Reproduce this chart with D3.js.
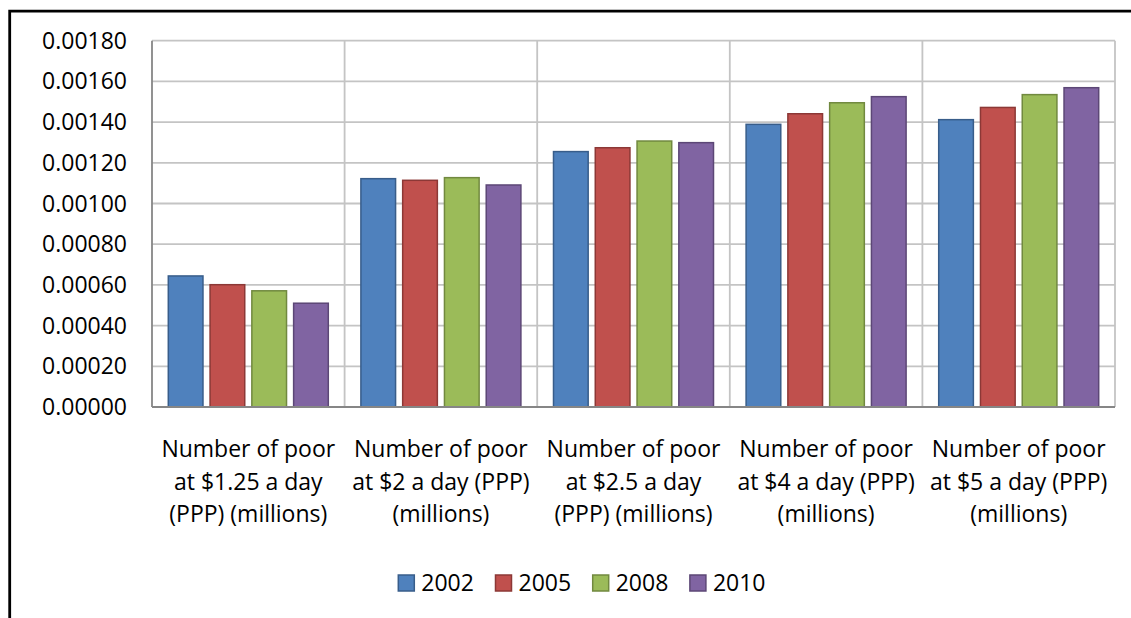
<!DOCTYPE html>
<html>
<head>
<meta charset="utf-8">
<script src="https://cdn.jsdelivr.net/npm/d3@7"></script>
<style>
  html, body { margin: 0; padding: 0; background: #fff; }
  svg { display: block; }
  text { font-family: "Open Sans", Lato, sans-serif; fill: #000; }
</style>
</head>
<body>
<svg id="chart" width="1131" height="618"></svg>
<script>
const categories = [
  ["Number of poor", "at $1.25 a day", "(PPP) (millions)"],
  ["Number of poor", "at $2 a day (PPP)", "(millions)"],
  ["Number of poor", "at $2.5 a day", "(PPP) (millions)"],
  ["Number of poor", "at $4 a day (PPP)", "(millions)"],
  ["Number of poor", "at $5 a day (PPP)", "(millions)"]
];
const seriesNames = ["2002", "2005", "2008", "2010"];
const values2002 = [0.000644, 0.001122, 0.001255, 0.001389, 0.001412];
const values2005 = [0.000601, 0.001114, 0.001274, 0.001441, 0.001472];
const values2008 = [0.000571, 0.001127, 0.001307, 0.001495, 0.001535];
const values2010 = [0.000510, 0.001091, 0.001299, 0.001525, 0.001569];
const yTicks = [0, 0.0002, 0.0004, 0.0006, 0.0008, 0.0010, 0.0012, 0.0014, 0.0016, 0.0018];
const fills = ["#4F81BD", "#C0504D", "#9BBB59", "#8064A2"];
const strokes = ["#385D8A", "#8C3836", "#71893F", "#5C4776"];

(function () {
const series = [values2002, values2005, values2008, values2010];
const svg = d3.select("#chart");
const fs = "23px";

// outer frame (clipped at right and bottom)
svg.append("path")
  .attr("d", "M9.7,640 L9.7,11.2 L1140,11.2")
  .attr("fill", "none").attr("stroke", "#000").attr("stroke-width", 2.8);

const pLeft = 152, pRight = 1115, pTop = 40.7, pBottom = 407;
const x0 = d3.scaleBand().domain(d3.range(categories.length)).range([pLeft, pRight]).paddingInner(0).paddingOuter(0);
const groupPad = 16.3;
const x1 = d3.scaleBand().domain(d3.range(seriesNames.length))
  .range([groupPad, x0.bandwidth() - groupPad]).paddingInner(0.17).paddingOuter(0);
const y = d3.scaleLinear().domain([0, 0.0018]).range([pBottom, pTop]);

// horizontal gridlines
svg.append("g").selectAll("line").data(yTicks.slice(1)).join("line")
  .attr("x1", pLeft).attr("x2", pRight)
  .attr("y1", d => y(d)).attr("y2", d => y(d))
  .attr("stroke", "#c4c4c4").attr("stroke-width", 1.8);

// vertical gridlines at category boundaries
const bounds = d3.range(1, categories.length + 1).map(i => pLeft + i * x0.step());
svg.append("g").selectAll("line").data(bounds).join("line")
  .attr("x1", d => d).attr("x2", d => d)
  .attr("y1", pTop).attr("y2", pBottom)
  .attr("stroke", "#c4c4c4").attr("stroke-width", 1.8);

// bars
const groups = svg.append("g").selectAll("g").data(categories).join("g")
  .attr("transform", (d, i) => `translate(${x0(i)},0)`);
groups.selectAll("rect").data((d, i) => series.map((s, j) => ({ j, v: s[i] }))).join("rect")
  .attr("x", d => x1(d.j))
  .attr("width", x1.bandwidth())
  .attr("y", d => y(d.v))
  .attr("height", d => y(0) - y(d.v))
  .attr("fill", d => fills[d.j])
  .attr("stroke", d => strokes[d.j])
  .attr("stroke-width", 1.5);

// axes lines
svg.append("line").attr("x1", pLeft).attr("x2", pLeft).attr("y1", pTop).attr("y2", pBottom)
  .attr("stroke", "#868686").attr("stroke-width", 1.8);
svg.append("line").attr("x1", pLeft).attr("x2", pRight).attr("y1", pBottom).attr("y2", pBottom)
  .attr("stroke", "#868686").attr("stroke-width", 1.8);

// y tick labels
const fmt = d3.format(".5f");
svg.append("g").selectAll("text").data(yTicks).join("text")
  .attr("x", 127).attr("y", d => y(d))
  .attr("dy", "0.35em")
  .attr("text-anchor", "end")
  .style("font-size", fs)
  .text(d => fmt(d));

// category labels
const lineY = [457, 489.5, 522];
categories.forEach((lines, i) => {
  const cx = x0(i) + x0.bandwidth() / 2;
  lines.forEach((t, k) => {
    svg.append("text").attr("x", cx).attr("y", lineY[k])
      .attr("text-anchor", "middle").style("font-size", fs).text(t);
  });
});

// legend
const legendX = 398.3, legendStep = 97.2;
const leg = svg.append("g").selectAll("g").data(seriesNames).join("g")
  .attr("transform", (d, i) => `translate(${legendX + i * legendStep},575)`);
leg.append("rect").attr("width", 16).attr("height", 16)
  .attr("fill", (d, i) => fills[i]).attr("stroke", (d, i) => strokes[i]).attr("stroke-width", 1.5);
leg.append("text").attr("x", 23).attr("y", 16).style("font-size", fs).text(d => d);
})();
</script>
</body>
</html>
